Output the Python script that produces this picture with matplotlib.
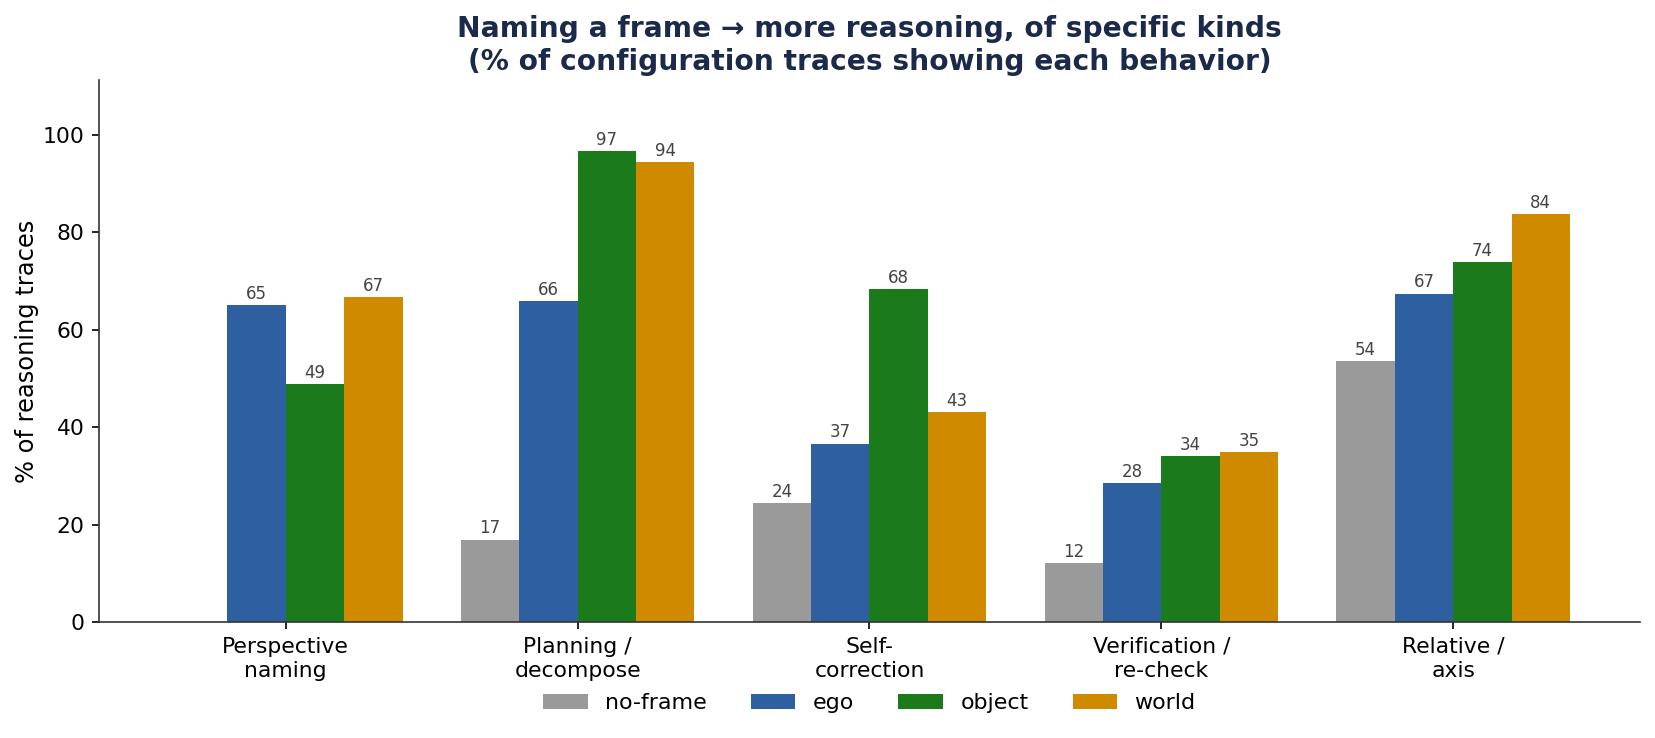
import matplotlib
matplotlib.use("Agg")
import matplotlib.pyplot as plt
import numpy as np

categories = ["Perspective\nnaming", "Planning /\ndecompose", "Self-\ncorrection",
              "Verification /\nre-check", "Relative /\naxis"]
series_names = ["no-frame", "ego", "object", "world"]
no_frame = [0.0, 16.9, 24.4, 12.1, 53.6]
ego = [65.0, 65.9, 36.6, 28.5, 67.4]
obj = [48.8, 96.7, 68.3, 34.1, 73.9]
world = [66.7, 94.3, 43.1, 34.8, 83.7]
colors = ["#9a9a9a", "#2e5fa1", "#1b7a1a", "#d08a00"]

series = [no_frame, ego, obj, world]

fig = plt.figure(figsize=(16.55 / 1.5, 7.38 / 1.5), dpi=150)
ax = fig.add_axes([99 / 1655, 1 - 622 / 738, (1640 - 99) / 1655, (622 - 80) / 738])

x = np.arange(len(categories))
w = 0.2
for i, (name, vals, c) in enumerate(zip(series_names, series, colors)):
    pos = x + (i - 1.5) * w
    bars = ax.bar(pos, vals, w, color=c, label=name)
    for b, v in zip(bars, vals):
        if v > 0:
            ax.text(b.get_x() + b.get_width() / 2, v + 0.45, f"{v:.0f}",
                    ha="center", va="bottom", fontsize=8, color="#444444")

ax.set_ylim(0, max(max(s) for s in series) * 1.15)
ax.set_xticks(x)
ax.set_xticklabels(categories, fontsize=10.5, linespacing=1.3)
ax.tick_params(axis="y", labelsize=10.5)
ax.set_ylabel("% of reasoning traces", fontsize=11.6, labelpad=1.5)
ax.set_title("Naming a frame → more reasoning, of specific kinds\n(% of configuration traces showing each behavior)",
             fontsize=13.5, fontweight="bold", color="#1b2a4a", pad=5)
for s in ["top", "right"]:
    ax.spines[s].set_visible(False)
for s in ["left", "bottom"]:
    ax.spines[s].set_color("#333333")

ax.legend(loc="upper center", bbox_to_anchor=(0.5, -0.095), ncol=4, frameon=False, fontsize=10.6)

fig.savefig("out.png", dpi=150)
